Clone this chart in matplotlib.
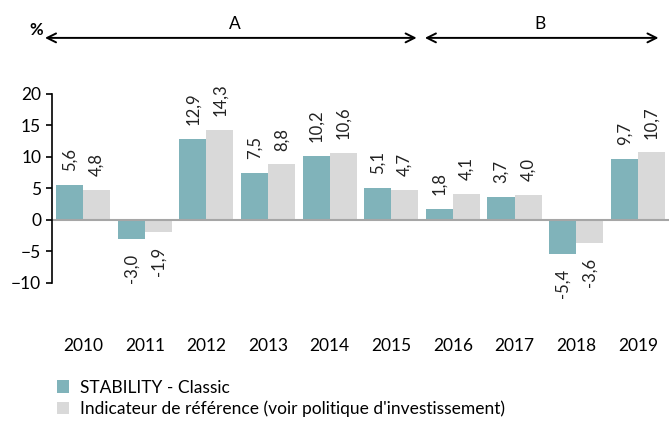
import matplotlib.pyplot as plt
import numpy as np

plt.rcParams['font.family'] = ['Lato', 'DejaVu Sans']

years = ['2010', '2011', '2012', '2013', '2014', '2015', '2016', '2017', '2018', '2019']
fund = [5.6, -3.0, 12.9, 7.5, 10.2, 5.1, 1.8, 3.7, -5.4, 9.7]
bench = [4.8, -1.9, 14.3, 8.8, 10.6, 4.7, 4.1, 4.0, -3.6, 10.7]
fund_name = 'STABILITY - Classic'
bench_name = "Indicateur de référence (voir politique d'investissement)"

teal = '#80b3ba'
grey = '#d9d9d9'

fig = plt.figure(figsize=(6.7, 4.21), dpi=100)
ax = fig.add_axes([0.078, 0.328, 0.92, 0.449])

x = np.arange(len(years))
w = 0.44
b1 = ax.bar(x - w / 2, fund, w, color=teal, label=fund_name)
b2 = ax.bar(x + w / 2, bench, w, color=grey, label=bench_name)

def fmt(v):
    return ('%.1f' % v).replace('.', ',')

for bars, vals in [(b1, fund), (b2, bench)]:
    for r, v in zip(bars, vals):
        cx = r.get_x() + r.get_width() / 2
        if v >= 0:
            ax.annotate(fmt(v), (cx, v), xytext=(0, 10), textcoords='offset points',
                        rotation=90, ha='center', va='bottom', fontsize=12, color='#222222')
        else:
            ax.annotate(fmt(v), (cx, v), xytext=(0, -11), textcoords='offset points',
                        rotation=90, ha='center', va='top', fontsize=12, color='#222222')

ax.axhline(0, color='#a6a6a6', lw=1.5, zorder=3)
ax.set_xlim(-0.5, 9.5)
ax.set_ylim(-10, 20)
ax.set_yticks([-10, -5, 0, 5, 10, 15, 20])
ax.set_xticks(x)
ax.set_xticklabels(years)
ax.tick_params(axis='x', length=0, pad=40, labelsize=12.5)
ax.tick_params(axis='y', length=4, width=1.2, labelsize=12.5, pad=4)
for s in ['top', 'right', 'bottom']:
    ax.spines[s].set_visible(False)
ax.spines['left'].set_linewidth(1.2)
ax.spines['left'].set_zorder(4)

# period arrows
fig.text(0.054, 0.928, '%', fontsize=12, fontweight='bold', ha='center', va='center')
fig.patches.append(plt.matplotlib.patches.FancyArrowPatch(
    (0.063, 0.91), (0.626, 0.91), transform=fig.transFigure, arrowstyle='<->',
    mutation_scale=16, lw=1.4, color='black'))
fig.patches.append(plt.matplotlib.patches.FancyArrowPatch(
    (0.630, 0.91), (0.987, 0.91), transform=fig.transFigure, arrowstyle='<->',
    mutation_scale=16, lw=1.4, color='black'))
fig.text(0.351, 0.943, 'A', fontsize=12.5, ha='center', va='center')
fig.text(0.806, 0.943, 'B', fontsize=12.5, ha='center', va='center')

fig.legend(loc='upper left', bbox_to_anchor=(0.075, 0.115), frameon=False,
           fontsize=12.5, handlelength=0.7, handleheight=0.7, handletextpad=0.6,
           labelspacing=0.3, borderaxespad=0)

fig.savefig('out.png', dpi=100)
